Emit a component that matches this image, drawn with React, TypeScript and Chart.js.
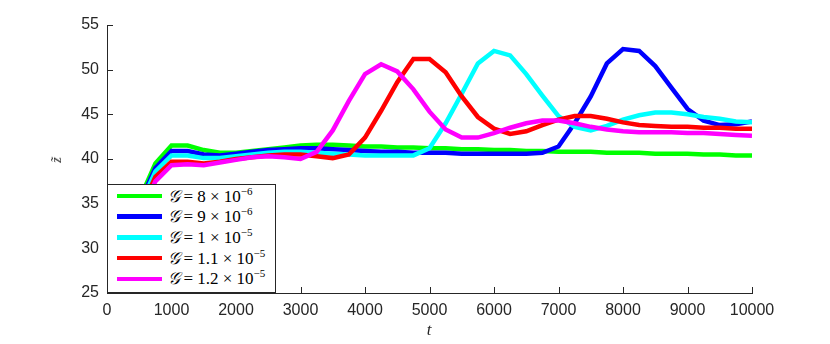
import React, { useEffect, useRef } from "react";
import { Chart, registerables } from "chart.js";

Chart.register(...registerables);

const tValues = [
  500, 750, 1000, 1250, 1500, 1750, 2000, 2250, 2500, 2750, 3000, 3250, 3500,
  3750, 4000, 4250, 4500, 4750, 5000, 5250, 5500, 5750, 6000, 6250, 6500, 6750,
  7000, 7250, 7500, 7750, 8000, 8250, 8500, 8750, 9000, 9250, 9500, 9750, 10000,
];

const zG8 = [
  35.4, 39.5, 41.5, 41.5, 41.0, 40.7, 40.7, 40.9, 41.1, 41.3, 41.5, 41.6, 41.6,
  41.5, 41.4, 41.4, 41.3, 41.3, 41.2, 41.2, 41.1, 41.1, 41.0, 41.0, 40.9, 40.9,
  40.8, 40.8, 40.8, 40.7, 40.7, 40.7, 40.6, 40.6, 40.6, 40.5, 40.5, 40.4, 40.4,
];
const zG9 = [
  35.0, 39.0, 40.9, 40.9, 40.5, 40.4, 40.6, 40.8, 41.0, 41.1, 41.2, 41.2, 41.1,
  41.0, 40.9, 40.8, 40.8, 40.7, 40.7, 40.7, 40.6, 40.6, 40.6, 40.6, 40.6, 40.7,
  41.4, 44.0, 47.0, 50.7, 52.3, 52.1, 50.4, 48.0, 45.6, 44.3, 43.8, 43.9, 44.2,
];
const zG10 = [
  34.6, 38.6, 40.4, 40.4, 40.1, 40.1, 40.3, 40.5, 40.7, 40.8, 40.8, 40.7, 40.6,
  40.5, 40.4, 40.4, 40.4, 40.4, 41.2, 44.0, 47.3, 50.7, 52.1, 51.6, 49.5, 47.1,
  44.8, 43.6, 43.2, 43.7, 44.4, 44.9, 45.2, 45.2, 45.0, 44.7, 44.5, 44.2, 44.1,
];
const zG11 = [
  34.0, 38.0, 39.7, 39.7, 39.5, 39.7, 40.0, 40.2, 40.4, 40.5, 40.5, 40.3, 40.1,
  40.5, 42.4, 45.4, 48.6, 51.2, 51.2, 49.7, 47.0, 44.7, 43.4, 42.8, 43.1, 43.8,
  44.4, 44.8, 44.8, 44.5, 44.1, 43.8, 43.7, 43.6, 43.6, 43.5, 43.5, 43.4, 43.4,
];
const zG12 = [
  33.5, 37.5, 39.3, 39.4, 39.3, 39.6, 39.9, 40.2, 40.3, 40.2, 40.0, 40.8, 43.2,
  46.5, 49.5, 50.6, 49.8, 47.8, 45.3, 43.3, 42.4, 42.4, 42.9, 43.5, 44.0, 44.3,
  44.3, 44.0, 43.6, 43.3, 43.1, 43.0, 43.0, 43.0, 42.9, 42.9, 42.8, 42.7, 42.6,
];

const xTicks = [0, 1000, 2000, 3000, 4000, 5000, 6000, 7000, 8000, 9000, 10000];
const yTicks = [25, 30, 35, 40, 45, 50, 55];

const seriesData = [zG8, zG9, zG10, zG11, zG12];
const seriesColors = ["#00ff00", "#0000ff", "#00ffff", "#ff0000", "#ff00ff"];
const legendMantissa = ["8", "9", "1", "1.1", "1.2"];
const legendExponent = ["\u22126", "\u22126", "\u22125", "\u22125", "\u22125"];

const AXIS_COLOR = "#262626";

export default function App() {
  const canvasRef = useRef<HTMLCanvasElement | null>(null);

  useEffect(() => {
    const canvas = canvasRef.current;
    if (!canvas) return;

    const inwardTicks = {
      id: "inwardTicks",
      afterDraw(chart: any) {
        const { ctx, chartArea, scales } = chart;
        const xs = scales.x;
        const ys = scales.y;
        ctx.save();
        ctx.strokeStyle = AXIS_COLOR;
        ctx.lineWidth = 1;
        ctx.beginPath();
        for (const v of xTicks) {
          const px = Math.round(xs.getPixelForValue(v)) + 0.5;
          ctx.moveTo(px, chartArea.bottom);
          ctx.lineTo(px, chartArea.bottom - 6);
        }
        for (const v of yTicks) {
          const py = Math.round(ys.getPixelForValue(v)) + 0.5;
          ctx.moveTo(chartArea.left, py);
          ctx.lineTo(chartArea.left + 6, py);
        }
        ctx.stroke();
        ctx.restore();
      },
    };

    const chart = new Chart(canvas, {
      type: "line",
      data: {
        datasets: seriesData.map((arr, i) => ({
          label: "G" + i,
          data: tValues.map((t, j) => ({ x: t, y: arr[j] })),
          borderColor: seriesColors[i],
          backgroundColor: seriesColors[i],
          borderWidth: 4.5,
          pointRadius: 0,
          tension: 0,
          fill: false,
          order: 5 - i,
          borderJoinStyle: "miter" as const,
        })),
      },
      options: {
        responsive: false,
        animation: false,
        events: [],
        layout: { padding: { left: 0, top: 25, right: 78, bottom: 0 } },
        plugins: {
          legend: { display: false },
          tooltip: { enabled: false },
        },
        scales: {
          x: {
            type: "linear",
            min: 0,
            max: 10000,
            afterBuildTicks: (scale: any) => {
              scale.ticks = xTicks.map((v) => ({ value: v }));
            },
            afterFit: (scale: any) => {
              scale.height = 51;
            },
            grid: { display: false, drawTicks: false },
            border: { display: true, color: AXIS_COLOR, width: 1 },
            ticks: {
              color: AXIS_COLOR,
              padding: 8,
              maxRotation: 0,
              autoSkip: false,
              font: { family: "'Liberation Sans', Arial, sans-serif", size: 16 },
              callback: (v: any) => String(v),
            },
          },
          y: {
            type: "linear",
            min: 25,
            max: 55,
            afterBuildTicks: (scale: any) => {
              scale.ticks = yTicks.map((v) => ({ value: v }));
            },
            afterFit: (scale: any) => {
              scale.width = 107;
            },
            grid: { display: false, drawTicks: false },
            border: { display: true, color: AXIS_COLOR, width: 1 },
            ticks: {
              color: AXIS_COLOR,
              padding: 8,
              autoSkip: false,
              font: { family: "'Liberation Sans', Arial, sans-serif", size: 16 },
              callback: (v: any) => String(v),
            },
          },
        },
      },
      plugins: [inwardTicks],
    });

    return () => chart.destroy();
  }, []);

  const serif = "'Liberation Serif', 'DejaVu Serif', serif";

  return (
    <div style={{ position: "absolute", left: 0, top: 0, width: 830, height: 344, background: "#fff" }}>
      <canvas ref={canvasRef} width={830} height={344} style={{ display: "block" }} />
      <div
        style={{
          position: "absolute",
          left: 57,
          top: 160,
          transform: "translate(-50%, -50%) rotate(-90deg)",
          fontFamily: serif,
          fontStyle: "italic",
          fontSize: 14,
          color: AXIS_COLOR,
          lineHeight: 1,
        }}
      >
        z&#771;
      </div>
      <div
        style={{
          position: "absolute",
          left: 429,
          top: 329,
          transform: "translate(-50%, -50%)",
          fontFamily: serif,
          fontStyle: "italic",
          fontSize: 17,
          color: AXIS_COLOR,
          lineHeight: 1,
        }}
      >
        t
      </div>
      <div
        style={{
          position: "absolute",
          left: 107,
          top: 184,
          width: 169,
          height: 109,
          boxSizing: "border-box",
          border: "1px solid " + AXIS_COLOR,
          background: "#fff",
        }}
      >
        {seriesColors.map((c, i) => (
          <div
            key={i}
            style={{
              position: "absolute",
              left: 9,
              top: 11 + i * 20.7,
              height: 0,
              display: "flex",
              alignItems: "center",
              whiteSpace: "nowrap",
            }}
          >
            <span style={{ display: "inline-block", width: 45, height: 4.5, background: c }} />
            <span
              style={{
                marginLeft: 6,
                fontFamily: serif,
                fontSize: 17,
                color: "#000",
                lineHeight: 1,
              }}
            >
              <span style={{ fontFamily: "'DejaVu Serif', 'DejaVu Sans', serif", fontStyle: "italic" }}>{"\u{1D4A2}"}</span>
              {"\u2009= " + legendMantissa[i] + " \u00D7 10"}
              <sup style={{ fontSize: 11, verticalAlign: "7px", lineHeight: 0 }}>{legendExponent[i]}</sup>
            </span>
          </div>
        ))}
      </div>
    </div>
  );
}
